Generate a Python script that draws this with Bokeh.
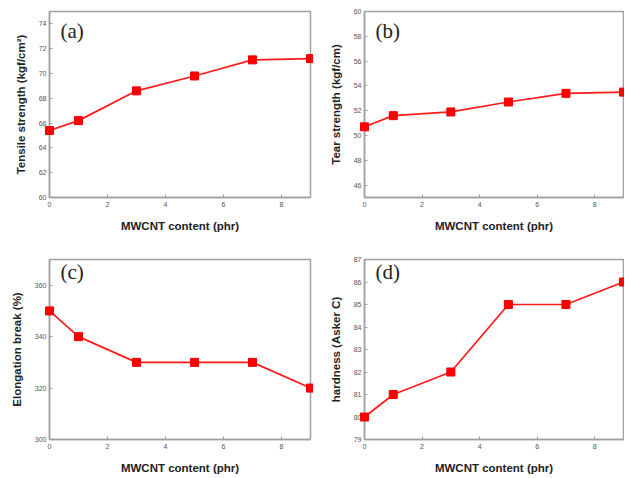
from bokeh.plotting import figure
from bokeh.layouts import gridplot
from bokeh.models import Range1d, FixedTicker, Label
from bokeh.embed import file_html
from bokeh.resources import INLINE

mwcnt = [0, 1, 3, 5, 7, 9]
tensile = [65.4, 66.2, 68.6, 69.8, 71.1, 71.2]
tear = [50.7, 51.6, 51.9, 52.7, 53.4, 53.5]
elongation = [350, 340, 330, 330, 330, 320]
hardness = [80, 81, 82, 85, 85, 86]

x_ticks = [0, 2, 4, 6, 8]
panels = [
    dict(y=tensile, yr=(60, 75), yt=[60, 62, 64, 66, 68, 70, 72, 74],
         ylab="Tensile strength (kgf/cm\u00b2)", tag="(a)"),
    dict(y=tear, yr=(45, 60), yt=[46, 48, 50, 52, 54, 56, 58, 60],
         ylab="Tear strength (kgf/cm)", tag="(b)"),
    dict(y=elongation, yr=(300, 370), yt=[300, 320, 340, 360],
         ylab="Elongation break (%)", tag="(c)"),
    dict(y=hardness, yr=(79, 87), yt=[79, 80, 81, 82, 83, 84, 85, 86, 87],
         ylab="hardness (Asker C)", tag="(d)"),
]

geom = [
    # width, height, left, right, top, bottom
    (313, 245, 49, 3, 11, 48),
    (311, 245, 51, 1, 11, 48),
    (313, 231, 49, 3, 14, 30),
    (311, 231, 51, 1, 14, 30),
]

figs = []
for pn, (w, h, bl, br, bt, bb) in zip(panels, geom):
    p = figure(width=w, height=h, output_backend="svg", toolbar_location=None,
               x_range=Range1d(0, 9), y_range=Range1d(*pn["yr"]),
               min_border_left=bl, min_border_right=br,
               min_border_top=bt, min_border_bottom=bb)
    p.grid.visible = False
    p.outline_line_color = "#a0a0a0"
    p.outline_line_width = 1.5
    p.background_fill_color = "white"
    p.border_fill_color = "white"
    for ax in (p.xaxis[0], p.yaxis[0]):
        ax.axis_line_color = "#a0a0a0"
        ax.axis_line_width = 1.5
        ax.major_tick_line_color = "#a0a0a0"
        ax.major_tick_in = 3
        ax.major_tick_out = 0
        ax.minor_tick_line_color = None
        ax.major_label_text_font = "Liberation Sans"
        ax.major_label_text_font_size = "7px"
        ax.major_label_text_color = "#555555"
        ax.axis_label_text_font = "Liberation Sans"
        ax.axis_label_text_font_size = "11.5px"
        ax.axis_label_text_font_style = "bold"
        ax.axis_label_text_color = "#222222"
    p.xaxis.ticker = FixedTicker(ticks=x_ticks)
    p.yaxis.ticker = FixedTicker(ticks=pn["yt"])
    p.xaxis.axis_label = "MWCNT content (phr)"
    p.yaxis.axis_label = pn["ylab"]
    p.xaxis.axis_label_standoff = 10
    p.yaxis.axis_label_standoff = 9
    p.xaxis.major_label_standoff = 4
    p.yaxis.major_label_standoff = 3
    p.line(mwcnt, pn["y"], line_color="#ff1a1a", line_width=1.7)
    p.scatter(mwcnt, pn["y"], marker="square", size=8, fill_color="#ff0000",
              line_color="#ee0000", level="overlay")
    p.add_layout(Label(x=11, y=h - bt - bb - 7, x_units="screen", y_units="screen",
                       text=pn["tag"], text_font="Liberation Serif",
                       text_font_size="21px", text_baseline="top",
                       text_color="#222222"))
    figs.append(p)

grid = gridplot([[figs[0], figs[1]], [figs[2], figs[3]]], toolbar_location=None)

with open("out.html", "w") as f:
    f.write(file_html(grid, INLINE))
